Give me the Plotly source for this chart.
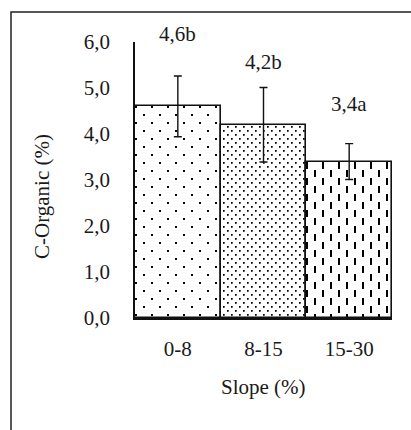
import plotly.graph_objects as go

# ---- data ----
categories = ["0-8", "8-15", "15-30"]
values = [4.6, 4.2, 3.4]
errors = [0.66, 0.81, 0.39]
labels = ["4,6b", "4,2b", "3,4a"]
y_ticks = [0, 1, 2, 3, 4, 5, 6]
y_max = 6

# label anchor heights (data units) above each bar
label_y = [6.17, 5.57, 4.65]

FONT = "Liberation Serif, Times New Roman, DejaVu Serif, serif"
FS = 21
TXT = "#1a1a1a"
W, H = 411, 430
L, R, T, B = 135, 19, 42, 112
pw, ph = W - L - R, H - T - B


def px_to_paper_x(px):
    return (px - L) / pw


def px_to_paper_y(py):
    return (H - B - py) / ph


# fill patterns (tile size, svg path) for each bar
patterns = [
    (16, "M0,0h2v2h-2z M8,8h2v2h-2z"),                 # sparse staggered dots
    (8, "M0,0h1.7v1.7h-1.7z M4,4h1.7v1.7h-1.7z"),      # dense staggered dots
    (16, "M3,0h2v7h-2z M11,8h2v7h-2z"),                # staggered vertical dashes
]

fig = go.Figure()

for c, v, (sz, pth) in zip(categories, values, patterns):
    fig.add_trace(go.Bar(
        x=[c], y=[v], width=1,
        marker=dict(
            color="white",
            line=dict(width=0),
            pattern=dict(path=pth, size=sz, fgcolor="black", bgcolor="white",
                         fillmode="replace"),
        ),
        hoverinfo="skip", showlegend=False,
    ))

# outline + error bars
fig.add_trace(go.Bar(
    x=categories, y=values, width=1,
    marker=dict(color="rgba(0,0,0,0)", line=dict(color="#111", width=1.6)),
    error_y=dict(type="data", array=errors, visible=True,
                 color="#111", thickness=1.4, width=4),
    showlegend=False,
))

annotations = []
for c, lab, ly in zip(categories, labels, label_y):
    annotations.append(dict(x=c, y=ly / y_max, xref="x", yref="paper", text=lab,
                            showarrow=False, font=dict(family=FONT, size=FS, color=TXT),
                            xanchor="center", yanchor="middle"))

annotations.append(dict(x=0.5, y=px_to_paper_y(387), xref="paper", yref="paper",
                        text="Slope (%)", showarrow=False,
                        font=dict(family=FONT, size=FS, color=TXT),
                        xanchor="center", yanchor="middle"))
annotations.append(dict(x=px_to_paper_x(42), y=px_to_paper_y(197), xref="paper", yref="paper",
                        text="C-Organic (%)", showarrow=False, textangle=-90,
                        font=dict(family=FONT, size=FS, color=TXT),
                        xanchor="center", yanchor="middle"))

# outer frame
shapes = [dict(type="rect", xref="paper", yref="paper",
               x0=px_to_paper_x(11), x1=px_to_paper_x(W + 20),
               y0=px_to_paper_y(H + 20), y1=px_to_paper_y(12),
               line=dict(color="#222", width=1.5), fillcolor="rgba(0,0,0,0)")]

fig.update_layout(
    width=W, height=H,
    margin=dict(l=L, r=R, t=T, b=B, pad=0),
    paper_bgcolor="white", plot_bgcolor="white",
    barmode="overlay", bargap=0,
    separators=",.",
    font=dict(family=FONT, size=FS, color=TXT),
    annotations=annotations, shapes=shapes,
    xaxis=dict(range=[-0.5, 2.5], showgrid=False, zeroline=False,
               showline=True, linecolor="#111", linewidth=1.6,
               ticks="", ticklabelstandoff=11,
               tickfont=dict(family=FONT, size=FS, color=TXT)),
    yaxis=dict(range=[0, y_max], tickvals=y_ticks, tickformat=".1f",
               showgrid=False, zeroline=False,
               showline=True, linecolor="#111", linewidth=1.6,
               ticks="", ticklabelstandoff=19,
               tickfont=dict(family=FONT, size=FS, color=TXT)),
)

fig.write_html("out.html")
